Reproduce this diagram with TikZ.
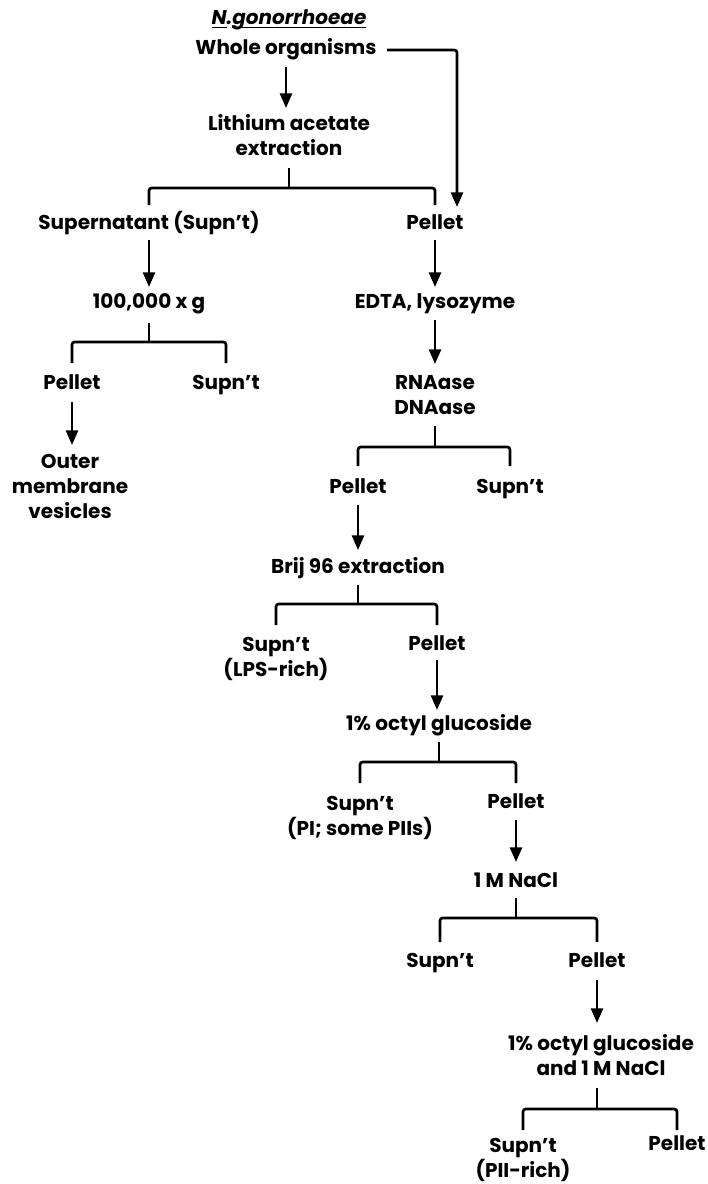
\documentclass[tikz,border=0pt]{standalone}
\usepackage{fontspec}
\setmainfont{Poppins}
\usetikzlibrary{arrows.meta}
\begin{document}
\begin{tikzpicture}[x=0.75pt,y=-0.75pt,
  lbl/.style={font=\fontsize{15}{18.75}\selectfont\bfseries, align=center, inner sep=0pt, anchor=base},
  arr/.style={line width=2pt, -{Triangle[width=9pt,length=11pt]}},
  brk/.style={line width=2pt, rounded corners=2pt},
  ]
\useasboundingbox[fill=white] (0,0) rectangle (707,1184);

% nodes (x = connector x, y = baseline of last line)
\node[lbl] (ng)    at (289,25)  {\itshape\underline{\smash{N}}.\underline{\smash{gonorrhoeae}}};
\node[lbl] (whole) at (286,55)  {Whole organisms};
\node[lbl] (lith)  at (289,156) {Lithium acetate\\extraction};
\node[lbl] (sup)   at (149,229) {Supernatant (Supn’t)};
\node[lbl] (pel1)  at (435,229) {Pellet};
\node[lbl] (g100)  at (149,308) {100,000 x g};
\node[lbl] (edta)  at (435,308) {EDTA, lysozyme};
\node[lbl] (pel2)  at (72,389)  {Pellet};
\node[lbl] (sup2)  at (226,389) {Supn’t};
\node[lbl] (outer) at (70,518)  {Outer\\membrane\\vesicles};
\node[lbl] (rna)   at (435,414) {RNAase\\DNAase};
\node[lbl] (pel3)  at (358,493) {Pellet};
\node[lbl] (sup3)  at (510,493) {Supn’t};
\node[lbl] (brij)  at (358,573) {Brij 96 extraction};
\node[lbl] (sup4)  at (276,676) {Supn’t\\(LPS-rich)};
\node[lbl] (pel4)  at (437,650) {Pellet};
\node[lbl] (oct1)  at (439,730) {1\% octyl glucoside};
\node[lbl] (sup5)  at (360,835) {Supn’t\\(PI; some PIIs)};
\node[lbl] (pel5)  at (516,808) {Pellet};
\node[lbl] (nacl)  at (516,887) {1 M NaCl};
\node[lbl] (sup6)  at (440,967) {Supn’t};
\node[lbl] (pel6)  at (597,967) {Pellet};
\node[lbl] (oct2)  at (601,1075) {1\% octyl glucoside\\and 1 M NaCl};
\node[lbl] (sup7)  at (523,1177) {Supn’t\\(PII-rich)};
\node[lbl] (pel7)  at (677,1150) {Pellet};

% whole organisms -> pellet (side route)
\coordinate (woout) at (387,50);
\coordinate (pelin) at (457,207);
\draw[brk,arr] (woout) -| (pelin);

% straight arrows
\draw[arr] (whole |- 0,67)  -- (whole |- 0,108);
\draw[arr] (sup |- 0,240)   -- (g100 |- 0,287);
\draw[arr] (pel1 |- 0,240)  -- (edta |- 0,287);
\draw[arr] (pel2 |- 0,402)  -- (pel2 |- 0,445);
\draw[arr] (edta |- 0,320)  -- (rna |- 0,364);
\draw[arr] (pel3 |- 0,505)  -- (brij |- 0,550);
\draw[arr] (pel4 |- 0,660)  -- (pel4 |- 0,710);
\draw[arr] (pel5 |- 0,820)  -- (nacl |- 0,862);
\draw[arr] (pel6 |- 0,980)  -- (pel6 |- 0,1023);

% brackets
\draw[brk] (lith |- 0,168) -- (lith |- 0,188);
\draw[brk] (sup |- 0,205) |- (pel1 |- 0,188) -- (pel1 |- 0,205);
\draw[brk] (g100 |- 0,323) -- (g100 |- 0,342);
\draw[brk] (pel2 |- 0,363) |- (sup2 |- 0,342) -- (sup2 |- 0,363);
\draw[brk] (rna |- 0,426) -- (rna |- 0,447);
\draw[brk] (pel3 |- 0,466) |- (sup3 |- 0,447) -- (sup3 |- 0,466);
\draw[brk] (brij |- 0,585) -- (brij |- 0,604);
\draw[brk] (sup4 |- 0,625) |- (pel4 |- 0,604) -- (pel4 |- 0,625);
\draw[brk] (oct1 |- 0,742) -- (oct1 |- 0,762);
\draw[brk] (sup5 |- 0,783) |- (pel5 |- 0,762) -- (pel5 |- 0,783);
\draw[brk] (nacl |- 0,898) -- (nacl |- 0,918);
\draw[brk] (sup6 |- 0,942) |- (pel6 |- 0,918) -- (pel6 |- 0,942);
\draw[brk] (pel6 |- 0,1088) -- (pel6 |- 0,1109);
\draw[brk] (sup7 |- 0,1130) |- (pel7 |- 0,1109) -- (pel7 |- 0,1130);
\end{tikzpicture}
\end{document}
